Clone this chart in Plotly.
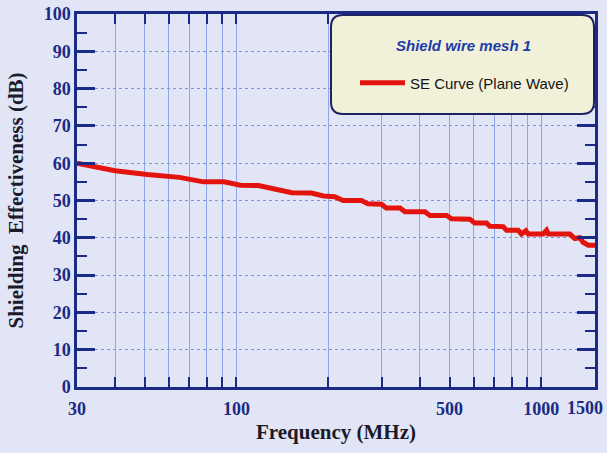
import numpy as np
import plotly.graph_objects as go

# SE curve
freq_mhz = [30, 40, 51, 65, 78, 91, 103, 118, 152, 176, 193, 210, 224, 257, 270,
            299, 310, 344, 357, 415, 431, 489, 508, 583, 605, 661, 678, 750, 769,
            840, 861, 890, 906, 1014, 1040, 1053, 1240, 1288, 1337, 1371, 1425, 1500]
se_db = [60, 58, 57, 56.2, 55, 55, 54.1, 54, 52.1, 52, 51.2, 51, 50, 50, 49.1,
         49, 48, 48, 47, 47, 46, 46, 45.1, 45, 44, 44, 43.1, 43, 42,
         42, 41, 41.9, 41, 41, 42, 41, 41, 39.8, 40, 38.8, 38, 38]

x_ticks = [30, 100, 500, 1000, 1500]
x_ticktext = ["30", "100", "500", "1000", ""]   # 1500 is set as an annotation so it stays inside the page
x_minor = [40, 50, 60, 70, 80, 90, 200, 300, 400, 600, 700, 800, 900]
x_long = [100, 1000]

NAVY = "#1b2a85"
GRID = "#8ea5ea"
BG = "#e2e5f5"
SERIF = "Liberation Serif"
SANS = "Liberation Sans"

# plot area in pixels (for placing the legend panel)
W, H = 607, 453
L, R, T, B = 77, 12, 14, 66
pw, ph = W - L - R, H - T - B


def px(xp):
    return (xp - L) / pw


def py(yp):
    return (H - B - yp) / ph


def rounded_box(x0, y0, x1, y1, r):
    rx, ry = r / pw, r / ph
    a, b, c, d = px(x0), py(y1), px(x1), py(y0)
    return (f"M{a+rx},{b} L{c-rx},{b} Q{c},{b} {c},{b+ry} L{c},{d-ry} Q{c},{d} {c-rx},{d} "
            f"L{a+rx},{d} Q{a},{d} {a},{d-ry} L{a},{b+ry} Q{a},{b} {a+rx},{b} Z")


fig = go.Figure()
fig.add_trace(go.Scatter(x=freq_mhz, y=se_db, mode="lines", name="SE Curve (Plane Wave)",
                         line=dict(color="#e3140e", width=5)))

xr = [np.log10(30) - 1e-5, np.log10(1500) + 1e-5]
fig.update_layout(
    width=W, height=H,
    margin=dict(l=L, r=R, t=T, b=B),
    paper_bgcolor=BG, plot_bgcolor=BG,
    showlegend=True,
    legend=dict(x=px(355), y=py(83), xanchor="left", yanchor="middle", itemwidth=45,
                bgcolor="rgba(0,0,0,0)", font=dict(family=SANS, size=15, color="#151515")),
    xaxis=dict(
        type="log", range=xr, automargin=False, ticklabelstandoff=4,
        tickmode="array", tickvals=x_ticks, ticktext=x_ticktext,
        ticks="inside", ticklen=10, tickwidth=2, tickcolor=NAVY,
        showline=True, linecolor=NAVY, linewidth=2.5, mirror="ticks",
        showgrid=True, gridcolor=GRID, gridwidth=1,
        minor=dict(tickmode="array", tickvals=x_minor, ticks="inside", ticklen=10,
                   tickwidth=2, tickcolor=NAVY, showgrid=True, gridcolor=GRID, gridwidth=1),
        tickfont=dict(family=SERIF, size=18, color=NAVY, weight="bold"),
        title=dict(text="Frequency (MHz)", standoff=6,
                   font=dict(family=SERIF, size=21, color="#1a1a2a", weight="bold")),
        zeroline=False,
    ),
    xaxis2=dict(
        type="log", range=xr, overlaying="x", anchor="y", side="bottom", automargin=False,
        tickmode="array", tickvals=x_long, ticks="inside", ticklen=18, tickwidth=2,
        tickcolor=NAVY, showticklabels=False, showgrid=False, showline=False,
    ),
    yaxis=dict(
        range=[0, 100], dtick=10, tick0=0, automargin=False,
        ticks="inside", ticklen=18, tickwidth=2.5, tickcolor=NAVY,
        showline=True, linecolor=NAVY, linewidth=2.5, mirror="ticks",
        showgrid=True, gridcolor="#7b97e4", griddash="dot", gridwidth=1,
        minor=dict(dtick=5, ticks="inside", ticklen=10, tickwidth=2, tickcolor=NAVY, showgrid=False),
        tickfont=dict(family=SERIF, size=18, color=NAVY, weight="bold"),
        title=dict(text="Shielding\u00a0 Effectiveness (dB)",
                   font=dict(family=SERIF, size=21, color="#1a1a2a", weight="bold")),
        zeroline=False,
    ),
    shapes=[dict(type="path", xref="paper", yref="paper", path=rounded_box(331, 15, 594, 114, 12),
                 fillcolor="#f1f0d8", line=dict(color="#1d2360", width=2), layer="above")],
    annotations=[
        dict(text="Shield wire mesh 1", xref="paper", yref="paper", x=px(463), y=py(45),
             xanchor="center", yanchor="middle", showarrow=False,
             font=dict(family=SANS, size=15, color="#1c3ca8", weight="bold", style="italic")),
        dict(text="1500", xref="paper", yref="paper", x=px(605), y=py(408),
             xanchor="right", yanchor="middle", showarrow=False,
             font=dict(family=SERIF, size=18, color=NAVY, weight="bold")),
    ],
)

# drop the default 8px page margin so the figure sits at the window corner
fig.write_html("out.html", config={"displayModeBar": False},
               post_script="document.body.style.margin='0';")
